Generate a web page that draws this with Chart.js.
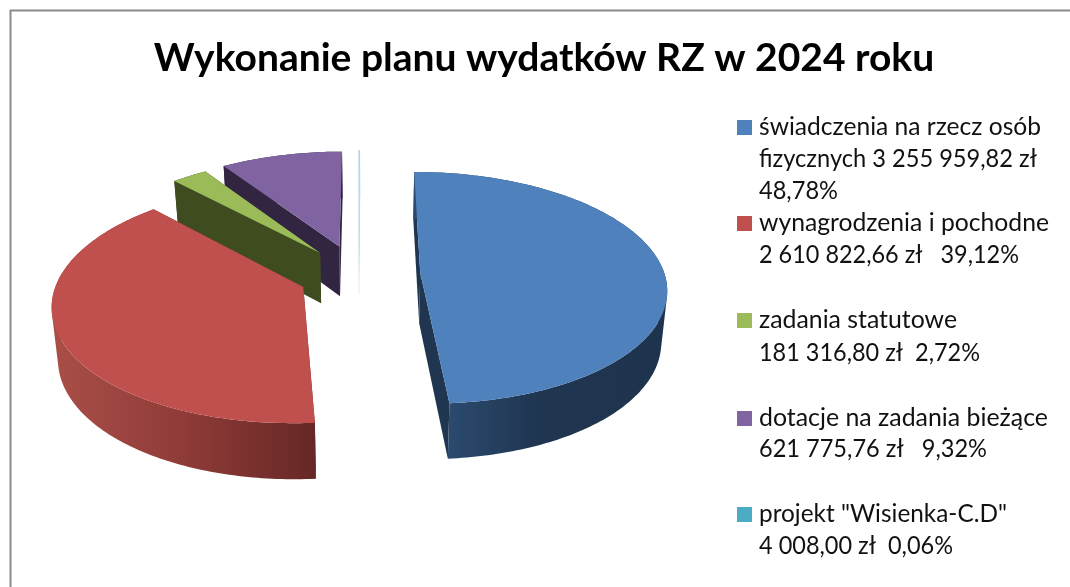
<!DOCTYPE html>
<html lang="pl"><head><meta charset="utf-8">
<style>html,body{margin:0;padding:0;background:#fff}canvas{display:block}</style>
<script src="https://cdn.jsdelivr.net/npm/chart.js@4"></script></head>
<body><canvas id="c" width="1070" height="587"></canvas>
<script>
const titleText = 'Wykonanie planu wydatków RZ w 2024 roku';
const categories = ['świadczenia na rzecz osób fizycznych','wynagrodzenia i pochodne','zadania statutowe','dotacje na zadania bieżące','projekt "Wisienka-C.D"'];
const values = [3255959.82, 2610822.66, 181316.80, 621775.76, 4008.00];
const legendLines = [
  ['świadczenia na rzecz osób','fizycznych 3 255 959,82 zł','48,78%'],
  ['wynagrodzenia i pochodne','2 610 822,66 zł   39,12%'],
  ['zadania statutowe','181 316,80 zł  2,72%'],
  ['dotacje na zadania bieżące','621 775,76 zł   9,32%'],
  ['projekt "Wisienka-C.D"','4 008,00 zł  0,06%']
];
const topColors = ['#4f81bd','#c0504d','#9bbb59','#8064a2','#4bacc6'];

// view settings of the tilted pie
const view = {cx:369, cy:273, A:244, B:114, k:0.133};
const explode = [[0.21,-0.005],[-0.265,0.121],[-0.205,-0.179],[-0.125,-0.24],[-0.043,-0.26]];
const faceColors = ['#1f3550','#6f2c29','#3f4c20','#322541','#cfe6ec'];
const legendStyle = {boxX:737, boxSize:15, textX:759, font:'25px Lato',
  baselines:[[135,167,199],[231,263],[328,361],[426,457],[522,554]],
  lineEnds:[[1041,1037,838],[1049,1019],[957,980],[1048,987],[1007,953]]};

function project(u,v){
  const w = 1 - view.k*v;
  return [view.cx + view.A*u/w, view.cy + view.B*v/w];
}
function lower(p){
  return [p[0] + (view.cx - p[0])*0.02, p[1] + 50 + (p[1]-250)*0.035];
}
function addPoly(ctx, pts){
  pts.forEach((p,i)=> i ? ctx.lineTo(p[0],p[1]) : ctx.moveTo(p[0],p[1]));
  ctx.closePath();
}
function poly(ctx, pts){
  ctx.beginPath();
  addPoly(ctx, pts);
}
function signedArea(pts){
  let s = 0;
  pts.forEach((p,i)=>{ const q = pts[(i+1)%pts.length]; s += p[0]*q[1]-q[0]*p[1]; });
  return s;
}
function outerGradient(ctx,i){
  if (i===0){
    const g = ctx.createLinearGradient(448,0,668,0);
    g.addColorStop(0,'#2b4a6e'); g.addColorStop(0.42,'#1f3550'); g.addColorStop(1,'#1e344e');
    return g;
  }
  if (i===1){
    const g = ctx.createLinearGradient(55,0,317,0);
    g.addColorStop(0,'#a94e47'); g.addColorStop(0.5,'#8f3b38'); g.addColorStop(1,'#652725');
    return g;
  }
  return faceColors[i];
}

const pie3d = {
  id:'pie3d',
  beforeDraw(chart){
    const ctx = chart.ctx;
    ctx.save();
    ctx.strokeStyle = '#8a8a8a'; ctx.lineWidth = 2;
    ctx.beginPath(); ctx.moveTo(10.5,587); ctx.lineTo(10.5,10.5); ctx.lineTo(1070,10.5); ctx.stroke();
    ctx.restore();
  },
  beforeDatasetDraw(chart,args){
    const ctx = chart.ctx, arcs = chart.getDatasetMeta(args.index).data;
    [4,3,2,1,0].forEach(i=>{
      const a = arcs[i], t0 = a.startAngle + Math.PI/2, t1 = a.endAngle + Math.PI/2;
      const [eu,ev] = explode[i];
      const rim = [];
      const steps = Math.max(2, Math.ceil((t1-t0)/(Math.PI/180)));
      for (let s=0;s<=steps;s++){
        const t = t0 + (t1-t0)*s/steps;
        rim.push(project(eu+Math.sin(t), ev-Math.cos(t)));
      }
      const apex = project(eu,ev);
      ctx.save();
      const fill = i===4 ? (()=>{const g=ctx.createLinearGradient(0,150,0,288);
        g.addColorStop(0,'#a6d9e5'); g.addColorStop(0.65,'#c4dfe6'); g.addColorStop(1,'#f2f4f4'); return g;})() : null;
      // radial faces
      ctx.fillStyle = fill || faceColors[i];
      poly(ctx,[apex,rim[0],lower(rim[0]),lower(apex)]); ctx.fill();
      poly(ctx,[apex,rim[rim.length-1],lower(rim[rim.length-1]),lower(apex)]); ctx.fill();
      // outer wall: all rim steps in one path, same winding, so no seams
      ctx.fillStyle = fill || outerGradient(ctx,i);
      ctx.beginPath();
      for (let s=0;s<rim.length-1;s++){
        const q = [rim[s],rim[s+1],lower(rim[s+1]),lower(rim[s])];
        if (signedArea(q)<0) q.reverse();
        addPoly(ctx,q);
      }
      ctx.fill('nonzero');
      // top face
      ctx.fillStyle = fill || topColors[i];
      poly(ctx,[apex].concat(rim)); ctx.fill();
      if (i===4){
        ctx.strokeStyle = fill; ctx.lineWidth = 1.5;
        ctx.beginPath(); ctx.moveTo(rim[0][0],rim[0][1]); ctx.lineTo(lower(apex)[0],lower(apex)[1]); ctx.stroke();
      }
      ctx.restore();
    });
    return false;
  },
  afterDraw(chart){
    const ctx = chart.ctx;
    ctx.save();
    ctx.font = legendStyle.font; ctx.textBaseline = 'alphabetic'; ctx.textAlign='left';
    legendLines.forEach((lines,i)=>{
      const ys = legendStyle.baselines[i];
      ctx.fillStyle = topColors[i];
      ctx.fillRect(legendStyle.boxX, ys[0]-15, legendStyle.boxSize, legendStyle.boxSize);
      ctx.fillStyle = '#111';
      lines.forEach((l,j)=> ctx.fillText(l, legendStyle.textX, ys[j], legendStyle.lineEnds[i][j]-legendStyle.textX));
    });
    ctx.restore();
  }
};

new Chart(document.getElementById('c'),{
  type:'pie',
  data:{labels:categories, datasets:[{data:values, backgroundColor:topColors, borderWidth:0}]},
  options:{
    responsive:false, animation:false,
    layout:{padding:{left:18}},
    plugins:{
      legend:{display:false}, tooltip:{enabled:false},
      title:{display:true, text:titleText, color:'#000',
        font:{family:'Lato', size:39, weight:'bold', lineHeight:1.2}, padding:{top:35,bottom:10}}
    }
  },
  plugins:[pie3d]
});
</script></body></html>
